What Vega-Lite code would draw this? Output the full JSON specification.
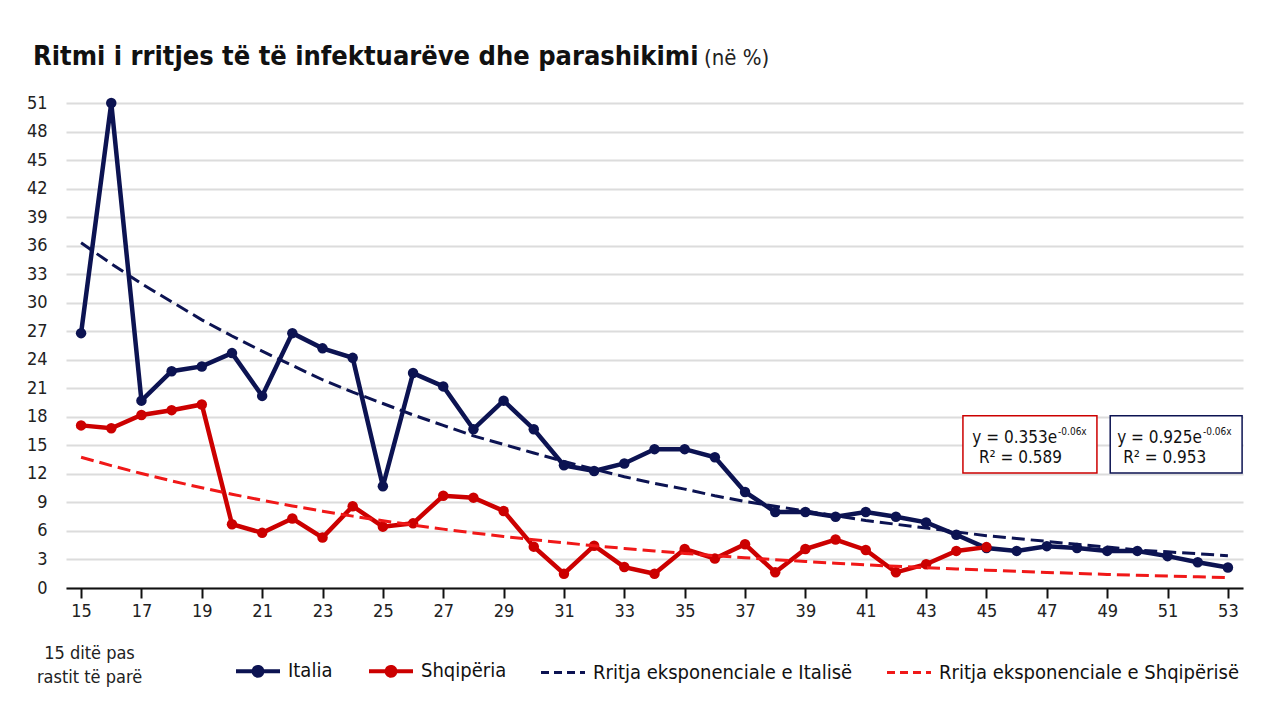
{
  "$schema": "https://vega.github.io/schema/vega-lite/v6.json",
  "width": 1177,
  "height": 485,
  "autosize": {"type": "none"},
  "padding": {"left": 66, "top": 103, "right": 37, "bottom": 132},
  "background": "white",
  "config": {
    "view": {"stroke": null},
    "font": "'DejaVu Sans Condensed', 'Liberation Sans', sans-serif",
    "text": {"font": "'DejaVu Sans Condensed', 'Liberation Sans', sans-serif"}
  },
  "title": {
    "text": "Ritmi i rritjes të të infektuarëve dhe parashikimi",
    "anchor": "start",
    "frame": "group",
    "dx": -33,
    "offset": 0,
    "dy": 45,
    "baseline": "alphabetic",
    "font": "'DejaVu Sans Condensed', 'Liberation Sans', sans-serif",
    "fontSize": 27,
    "fontWeight": "bold",
    "color": "#111111"
  },
  "datasets": {
    "actual": [
      {"day": 15, "series": "Italia", "value": 26.8},
      {"day": 16, "series": "Italia", "value": 51},
      {"day": 17, "series": "Italia", "value": 19.7},
      {"day": 18, "series": "Italia", "value": 22.8},
      {"day": 19, "series": "Italia", "value": 23.3},
      {"day": 20, "series": "Italia", "value": 24.7},
      {"day": 21, "series": "Italia", "value": 20.2},
      {"day": 22, "series": "Italia", "value": 26.8},
      {"day": 23, "series": "Italia", "value": 25.2},
      {"day": 24, "series": "Italia", "value": 24.2},
      {"day": 25, "series": "Italia", "value": 10.7},
      {"day": 26, "series": "Italia", "value": 22.6},
      {"day": 27, "series": "Italia", "value": 21.2},
      {"day": 28, "series": "Italia", "value": 16.7},
      {"day": 29, "series": "Italia", "value": 19.7},
      {"day": 30, "series": "Italia", "value": 16.7},
      {"day": 31, "series": "Italia", "value": 12.9},
      {"day": 32, "series": "Italia", "value": 12.3},
      {"day": 33, "series": "Italia", "value": 13.1},
      {"day": 34, "series": "Italia", "value": 14.6},
      {"day": 35, "series": "Italia", "value": 14.6},
      {"day": 36, "series": "Italia", "value": 13.75},
      {"day": 37, "series": "Italia", "value": 10.1},
      {"day": 38, "series": "Italia", "value": 8.0},
      {"day": 39, "series": "Italia", "value": 8.0},
      {"day": 40, "series": "Italia", "value": 7.5},
      {"day": 41, "series": "Italia", "value": 8.0},
      {"day": 42, "series": "Italia", "value": 7.5},
      {"day": 43, "series": "Italia", "value": 6.9},
      {"day": 44, "series": "Italia", "value": 5.6},
      {"day": 45, "series": "Italia", "value": 4.2},
      {"day": 46, "series": "Italia", "value": 3.9},
      {"day": 47, "series": "Italia", "value": 4.4},
      {"day": 48, "series": "Italia", "value": 4.2},
      {"day": 49, "series": "Italia", "value": 3.9},
      {"day": 50, "series": "Italia", "value": 3.9},
      {"day": 51, "series": "Italia", "value": 3.35},
      {"day": 52, "series": "Italia", "value": 2.7},
      {"day": 53, "series": "Italia", "value": 2.15},
      {"day": 15, "series": "Shqipëria", "value": 17.1},
      {"day": 16, "series": "Shqipëria", "value": 16.8},
      {"day": 17, "series": "Shqipëria", "value": 18.2},
      {"day": 18, "series": "Shqipëria", "value": 18.7},
      {"day": 19, "series": "Shqipëria", "value": 19.3},
      {"day": 20, "series": "Shqipëria", "value": 6.7},
      {"day": 21, "series": "Shqipëria", "value": 5.8},
      {"day": 22, "series": "Shqipëria", "value": 7.3},
      {"day": 23, "series": "Shqipëria", "value": 5.3},
      {"day": 24, "series": "Shqipëria", "value": 8.6},
      {"day": 25, "series": "Shqipëria", "value": 6.45},
      {"day": 26, "series": "Shqipëria", "value": 6.8},
      {"day": 27, "series": "Shqipëria", "value": 9.7},
      {"day": 28, "series": "Shqipëria", "value": 9.5},
      {"day": 29, "series": "Shqipëria", "value": 8.1},
      {"day": 30, "series": "Shqipëria", "value": 4.35},
      {"day": 31, "series": "Shqipëria", "value": 1.5},
      {"day": 32, "series": "Shqipëria", "value": 4.45},
      {"day": 33, "series": "Shqipëria", "value": 2.2},
      {"day": 34, "series": "Shqipëria", "value": 1.5},
      {"day": 35, "series": "Shqipëria", "value": 4.1},
      {"day": 36, "series": "Shqipëria", "value": 3.1},
      {"day": 37, "series": "Shqipëria", "value": 4.6},
      {"day": 38, "series": "Shqipëria", "value": 1.65},
      {"day": 39, "series": "Shqipëria", "value": 4.1},
      {"day": 40, "series": "Shqipëria", "value": 5.1},
      {"day": 41, "series": "Shqipëria", "value": 4.0},
      {"day": 42, "series": "Shqipëria", "value": 1.65},
      {"day": 43, "series": "Shqipëria", "value": 2.5},
      {"day": 44, "series": "Shqipëria", "value": 3.9},
      {"day": 45, "series": "Shqipëria", "value": 4.3}
    ],
    "trend": [
      {"day": 15, "series": "Rritja eksponenciale e Italisë", "value": 36.3},
      {"day": 16, "series": "Rritja eksponenciale e Italisë", "value": 34.1},
      {"day": 17, "series": "Rritja eksponenciale e Italisë", "value": 32.0},
      {"day": 18, "series": "Rritja eksponenciale e Italisë", "value": 30.1},
      {"day": 19, "series": "Rritja eksponenciale e Italisë", "value": 28.2},
      {"day": 20, "series": "Rritja eksponenciale e Italisë", "value": 26.5},
      {"day": 21, "series": "Rritja eksponenciale e Italisë", "value": 24.9},
      {"day": 22, "series": "Rritja eksponenciale e Italisë", "value": 23.4},
      {"day": 23, "series": "Rritja eksponenciale e Italisë", "value": 21.9},
      {"day": 24, "series": "Rritja eksponenciale e Italisë", "value": 20.6},
      {"day": 25, "series": "Rritja eksponenciale e Italisë", "value": 19.4},
      {"day": 26, "series": "Rritja eksponenciale e Italisë", "value": 18.2},
      {"day": 27, "series": "Rritja eksponenciale e Italisë", "value": 17.1},
      {"day": 28, "series": "Rritja eksponenciale e Italisë", "value": 16.0},
      {"day": 29, "series": "Rritja eksponenciale e Italisë", "value": 15.1},
      {"day": 30, "series": "Rritja eksponenciale e Italisë", "value": 14.2},
      {"day": 31, "series": "Rritja eksponenciale e Italisë", "value": 13.3},
      {"day": 32, "series": "Rritja eksponenciale e Italisë", "value": 12.5},
      {"day": 33, "series": "Rritja eksponenciale e Italisë", "value": 11.7},
      {"day": 34, "series": "Rritja eksponenciale e Italisë", "value": 11.0},
      {"day": 35, "series": "Rritja eksponenciale e Italisë", "value": 10.4},
      {"day": 36, "series": "Rritja eksponenciale e Italisë", "value": 9.7},
      {"day": 37, "series": "Rritja eksponenciale e Italisë", "value": 9.1},
      {"day": 38, "series": "Rritja eksponenciale e Italisë", "value": 8.6},
      {"day": 39, "series": "Rritja eksponenciale e Italisë", "value": 8.1},
      {"day": 40, "series": "Rritja eksponenciale e Italisë", "value": 7.6},
      {"day": 41, "series": "Rritja eksponenciale e Italisë", "value": 7.1},
      {"day": 42, "series": "Rritja eksponenciale e Italisë", "value": 6.7},
      {"day": 43, "series": "Rritja eksponenciale e Italisë", "value": 6.3},
      {"day": 44, "series": "Rritja eksponenciale e Italisë", "value": 5.9},
      {"day": 45, "series": "Rritja eksponenciale e Italisë", "value": 5.5},
      {"day": 46, "series": "Rritja eksponenciale e Italisë", "value": 5.2},
      {"day": 47, "series": "Rritja eksponenciale e Italisë", "value": 4.9},
      {"day": 48, "series": "Rritja eksponenciale e Italisë", "value": 4.6},
      {"day": 49, "series": "Rritja eksponenciale e Italisë", "value": 4.3},
      {"day": 50, "series": "Rritja eksponenciale e Italisë", "value": 4.0},
      {"day": 51, "series": "Rritja eksponenciale e Italisë", "value": 3.8},
      {"day": 52, "series": "Rritja eksponenciale e Italisë", "value": 3.6},
      {"day": 53, "series": "Rritja eksponenciale e Italisë", "value": 3.4},
      {"day": 15, "series": "Rritja eksponenciale e Shqipërisë", "value": 13.75},
      {"day": 16, "series": "Rritja eksponenciale e Shqipërisë", "value": 12.87},
      {"day": 17, "series": "Rritja eksponenciale e Shqipërisë", "value": 12.04},
      {"day": 18, "series": "Rritja eksponenciale e Shqipërisë", "value": 11.26},
      {"day": 19, "series": "Rritja eksponenciale e Shqipërisë", "value": 10.54},
      {"day": 20, "series": "Rritja eksponenciale e Shqipërisë", "value": 9.86},
      {"day": 21, "series": "Rritja eksponenciale e Shqipërisë", "value": 9.23},
      {"day": 22, "series": "Rritja eksponenciale e Shqipërisë", "value": 8.63},
      {"day": 23, "series": "Rritja eksponenciale e Shqipërisë", "value": 8.08},
      {"day": 24, "series": "Rritja eksponenciale e Shqipërisë", "value": 7.56},
      {"day": 25, "series": "Rritja eksponenciale e Shqipërisë", "value": 7.07},
      {"day": 26, "series": "Rritja eksponenciale e Shqipërisë", "value": 6.62},
      {"day": 27, "series": "Rritja eksponenciale e Shqipërisë", "value": 6.19},
      {"day": 28, "series": "Rritja eksponenciale e Shqipërisë", "value": 5.79},
      {"day": 29, "series": "Rritja eksponenciale e Shqipërisë", "value": 5.42},
      {"day": 30, "series": "Rritja eksponenciale e Shqipërisë", "value": 5.07},
      {"day": 31, "series": "Rritja eksponenciale e Shqipërisë", "value": 4.75},
      {"day": 32, "series": "Rritja eksponenciale e Shqipërisë", "value": 4.44},
      {"day": 33, "series": "Rritja eksponenciale e Shqipërisë", "value": 4.16},
      {"day": 34, "series": "Rritja eksponenciale e Shqipërisë", "value": 3.89},
      {"day": 35, "series": "Rritja eksponenciale e Shqipërisë", "value": 3.64},
      {"day": 36, "series": "Rritja eksponenciale e Shqipërisë", "value": 3.40},
      {"day": 37, "series": "Rritja eksponenciale e Shqipërisë", "value": 3.18},
      {"day": 38, "series": "Rritja eksponenciale e Shqipërisë", "value": 2.98},
      {"day": 39, "series": "Rritja eksponenciale e Shqipërisë", "value": 2.79},
      {"day": 40, "series": "Rritja eksponenciale e Shqipërisë", "value": 2.61},
      {"day": 41, "series": "Rritja eksponenciale e Shqipërisë", "value": 2.44},
      {"day": 42, "series": "Rritja eksponenciale e Shqipërisë", "value": 2.28},
      {"day": 43, "series": "Rritja eksponenciale e Shqipërisë", "value": 2.14},
      {"day": 44, "series": "Rritja eksponenciale e Shqipërisë", "value": 2.00},
      {"day": 45, "series": "Rritja eksponenciale e Shqipërisë", "value": 1.87},
      {"day": 46, "series": "Rritja eksponenciale e Shqipërisë", "value": 1.75},
      {"day": 47, "series": "Rritja eksponenciale e Shqipërisë", "value": 1.64},
      {"day": 48, "series": "Rritja eksponenciale e Shqipërisë", "value": 1.53},
      {"day": 49, "series": "Rritja eksponenciale e Shqipërisë", "value": 1.43},
      {"day": 50, "series": "Rritja eksponenciale e Shqipërisë", "value": 1.34},
      {"day": 51, "series": "Rritja eksponenciale e Shqipërisë", "value": 1.26},
      {"day": 52, "series": "Rritja eksponenciale e Shqipërisë", "value": 1.17},
      {"day": 53, "series": "Rritja eksponenciale e Shqipërisë", "value": 1.10}
    ],
    "boxes": [
      {"series": "Shqipëria", "x1": 44.22, "x2": 48.66, "y1": 12.1, "y2": 18.1, "xl": 44.75, "xe": 47.34, "eq": "y = 0.353e", "sup": "-0.06x", "r2": "R² = 0.589", "eqY": 15.25, "supY": 16.1, "r2Y": 13.14},
      {"series": "Italia", "x1": 49.1, "x2": 53.47, "y1": 12.1, "y2": 18.1, "xl": 49.53, "xe": 52.14, "eq": "y = 0.925e", "sup": "-0.06x", "r2": "R² = 0.953", "eqY": 15.25, "supY": 16.1, "r2Y": 13.14}
    ],
    "heading": [
      {"label": "(në %)", "x": 35.64, "y": 55.0}
    ]
  },
  "layer": [
    {
      "data": {"name": "boxes"},
      "mark": {"type": "rect", "fill": "white", "strokeWidth": 1.5},
      "encoding": {
        "x": {
          "field": "x1",
          "type": "quantitative",
          "scale": {"domain": [14.5, 53.5], "nice": false, "zero": false},
          "axis": {
            "values": [15, 17, 19, 21, 23, 25, 27, 29, 31, 33, 35, 37, 39, 41, 43, 45, 47, 49, 51, 53],
            "tickCount": 40,
            "grid": false,
            "domainColor": "#111111",
            "domainWidth": 2,
            "tickColor": "#111111",
            "tickWidth": 2,
            "tickSize": 10,
            "labelFontSize": 18,
            "labelColor": "#222222",
            "labelPadding": 4,
            "labelOverlap": false,
            "title": ["15 ditë pas", "rastit të parë"],
            "titleFontSize": 18,
            "titleFontWeight": "normal",
            "titleColor": "#222222",
            "titleX": 23,
            "titleY": 56,
            "titleAlign": "center",
            "titleBaseline": "top",
            "titleLineHeight": 24
          }
        },
        "x2": {"field": "x2"},
        "y": {
          "field": "y1",
          "type": "quantitative",
          "scale": {"domain": [0, 51], "nice": false},
          "axis": {
            "values": [0, 3, 6, 9, 12, 15, 18, 21, 24, 27, 30, 33, 36, 39, 42, 45, 48, 51],
            "tickCount": 40,
            "grid": true,
            "gridColor": "#dcdcdc",
            "gridWidth": 2,
            "domain": false,
            "ticks": false,
            "labelPadding": 19,
            "labelFontSize": 18,
            "labelColor": "#222222",
            "labelOverlap": false,
            "title": null
          }
        },
        "y2": {"field": "y2"},
        "stroke": {
          "field": "series",
          "type": "nominal",
          "scale": {"domain": ["Shqipëria", "Italia"], "range": ["#cc0000", "#0c1352"]},
          "legend": null
        }
      }
    },
    {
      "data": {"name": "boxes"},
      "mark": {"type": "text", "align": "right", "baseline": "alphabetic", "fontSize": 17, "color": "#111111"},
      "encoding": {
        "x": {"field": "xe", "type": "quantitative"},
        "y": {"field": "eqY", "type": "quantitative"},
        "text": {"field": "eq"}
      }
    },
    {
      "data": {"name": "boxes"},
      "mark": {"type": "text", "align": "left", "baseline": "alphabetic", "fontSize": 10, "dx": 1, "color": "#111111"},
      "encoding": {
        "x": {"field": "xe", "type": "quantitative"},
        "y": {"field": "supY", "type": "quantitative"},
        "text": {"field": "sup"}
      }
    },
    {
      "data": {"name": "boxes"},
      "mark": {"type": "text", "align": "left", "baseline": "alphabetic", "fontSize": 17, "color": "#111111"},
      "encoding": {
        "x": {"field": "xl", "type": "quantitative"},
        "y": {"field": "r2Y", "type": "quantitative"},
        "text": {"field": "r2"}
      }
    },
    {
      "data": {"name": "actual"},
      "mark": {"type": "line", "strokeWidth": 4.5, "point": {"filled": true, "size": 110}},
      "encoding": {
        "x": {"field": "day", "type": "quantitative"},
        "y": {"field": "value", "type": "quantitative"},
        "color": {
          "field": "series",
          "type": "nominal",
          "scale": {
            "domain": ["Italia", "Shqipëria", "Rritja eksponenciale e Italisë", "Rritja eksponenciale e Shqipërisë"],
            "range": ["#0c1352", "#cc0000", "#0c1352", "#f01818"]
          },
          "legend": {
            "title": null,
            "orient": "none",
            "legendX": 182,
            "legendY": 558,
            "direction": "horizontal",
            "columns": 4,
            "columnPadding": 28,
            "symbolType": "stroke",
            "symbolSize": 1936,
            "symbolStrokeWidth": 4,
            "labelOffset": 20,
            "labelFontSize": 20,
            "labelColor": "#111111",
            "labelLimit": 400,
            "encode": {
              "symbols": {
                "update": {
                  "shape": {"signal": "indexof(['Italia','Shqipëria'], datum.value) >= 0 ? 'M-1,0H1M0.2,0A0.2,0.2 0 1,1 -0.2,0A0.2,0.2 0 1,1 0.2,0Z' : 'stroke'"},
                  "fill": {"signal": "datum.value == 'Italia' ? '#0c1352' : datum.value == 'Shqipëria' ? '#cc0000' : 'transparent'"},
                  "strokeDash": {"signal": "indexof(['Italia','Shqipëria'], datum.value) >= 0 ? [1,0] : [8,5]"},
                  "strokeWidth": {"signal": "indexof(['Italia','Shqipëria'], datum.value) >= 0 ? 4 : 3"}
                }
              }
            }
          }
        }
      }
    },
    {
      "data": {"name": "trend"},
      "mark": {"type": "line", "strokeWidth": 3, "strokeDash": [13, 6]},
      "encoding": {
        "x": {"field": "day", "type": "quantitative"},
        "y": {"field": "value", "type": "quantitative"},
        "color": {
          "field": "series",
          "type": "nominal",
          "scale": {
            "domain": ["Italia", "Shqipëria", "Rritja eksponenciale e Italisë", "Rritja eksponenciale e Shqipërisë"],
            "range": ["#0c1352", "#cc0000", "#0c1352", "#f01818"]
          }
        }
      }
    },
    {
      "data": {"name": "heading"},
      "mark": {"type": "text", "align": "left", "baseline": "alphabetic", "fontSize": 22, "color": "#222222"},
      "encoding": {
        "x": {"field": "x", "type": "quantitative"},
        "y": {"field": "y", "type": "quantitative"},
        "text": {"field": "label"}
      }
    }
  ]
}
